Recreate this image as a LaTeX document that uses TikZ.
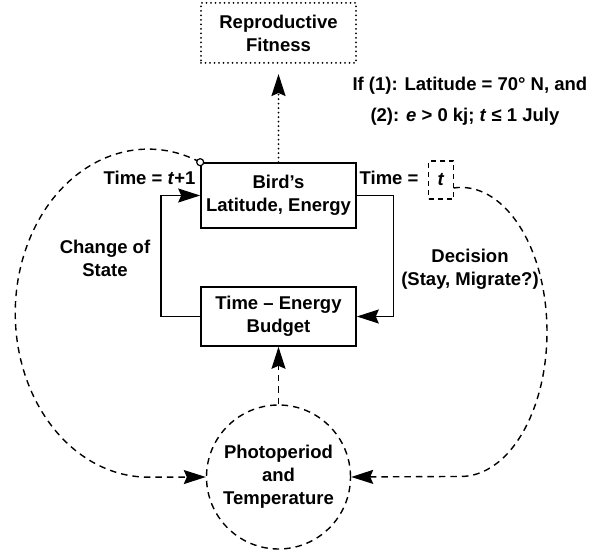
\documentclass[tikz,border=0pt]{standalone}
\usepackage{fontspec}
\setmainfont{Liberation Sans}
\usetikzlibrary{arrows.meta}
\begin{document}
\begin{tikzpicture}[x=1pt,y=1pt,
  every node/.style={font=\fontsize{18.5}{23}\selectfont\bfseries, align=center},
  box/.style={draw, line width=1.6pt, minimum width=155pt, inner sep=0pt},
  dotbox/.style={dash pattern=on 0pt off 4.5pt, line cap=round, line width=2pt},
  dsh/.style={dash pattern=on 6.5pt off 5pt, line width=1.4pt},
  solidline/.style={line width=1.6pt},
  tipend/.style={-{Stealth[length=22pt,width=14pt,inset=3pt]}}
]
\useasboundingbox (0,0) rectangle (598,-553);

\node[box, dotbox, minimum height=60pt] (repro) at (278.5,-33) {Reproductive\\Fitness};
\node[box, minimum height=65pt] (bird) at (278.5,-195.5) {Bird\symbol{39}s\\Latitude, Energy};
\node[box, minimum height=59pt] (budget) at (278.5,-316.5) {Time -- Energy\\Budget};
\node[circle, draw, dsh, minimum size=144pt, inner sep=0pt] (photo) at (278.5,-477) {Photoperiod\\and\\Temperature};

\node[anchor=west] (if1) at (349,-86) {If (1): Latitude = 70° N, and};
\node[anchor=west] (if2) at (367,-117) {(2): \textit{e} > 0 kj; \textit{t} ≤ 1 July};

\node[anchor=east] (tl) at (199,-178) {Time = \textit{t}+1};
\node[anchor=east] (tr) at (422,-178) {Time =};
\node[draw, dash pattern=on 5pt off 4pt, line width=1.3pt, minimum width=25pt, minimum height=38pt, inner sep=0pt] (tbox) at (441,-180) {\textit{t}};

\node (cos) at (105,-258) {Change of\\State};
\node (dec) at (470,-269) {Decision\\(Stay, Migrate?)};

\coordinate (sccoord) at (bird.north west);
\coordinate (tstart) at (453.5,-188);

% dotted arrow to fitness
\draw[dotbox, tipend] (bird.north) -- ([yshift=-10pt]repro.south);

% loops
\draw[solidline, tipend] (budget.west) -- ++(-39.3,0) |- (bird.west);
\draw[solidline, tipend] (bird.east) -- ++(36.7,0) |- (budget.east);

% environment arrow
\draw[dsh, tipend] (photo.north) -- (budget.south);

% big arcs
\draw[dsh, tipend] (sccoord) arc[start angle=67, end angle=270, x radius=133, y radius=164] -- (photo.west);
\draw[dsh, tipend] (tstart) arc[start angle=95, end angle=-90, x radius=86, y radius=144.5] -- (photo.east);

\node[draw, circle, line width=1.2pt, inner sep=0pt, minimum size=7pt, fill=white] (sc) at (sccoord) {};
\end{tikzpicture}
\end{document}
